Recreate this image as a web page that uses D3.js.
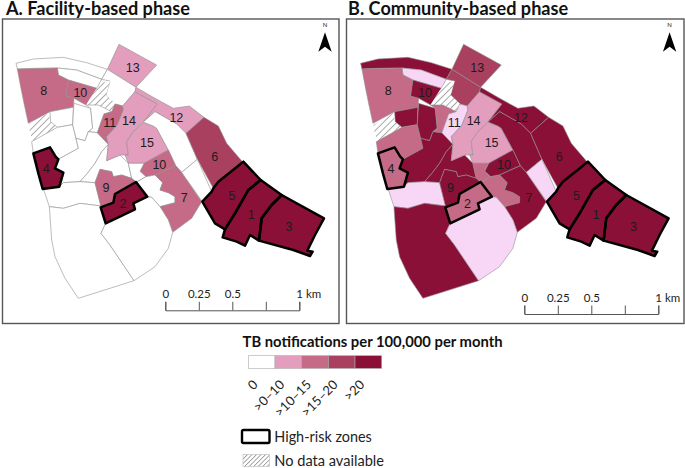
<!DOCTYPE html>
<html>
<head>
<meta charset="utf-8">
<title>TB notifications</title>
<script src="https://cdnjs.cloudflare.com/ajax/libs/d3/7.8.5/d3.min.js"></script>
<style>
  body { margin: 0; background: #fff; }
  text { font-family: Lato, sans-serif; fill: #222; }
  .zone-label { font-family: "Liberation Sans", sans-serif; font-size: 12.5px; text-anchor: middle; fill: #1c1c1c; }
</style>
</head>
<body>
<script>
// choropleth classes, 5 is the pale tint only used on the community map
const classLabels = ['0', '>0–10', '>10–15', '>15–20', '>20']
const classColors = ['#ffffff', '#e39dbd', '#c56a87', '#aa405f', '#8b1038', '#f8d6f6']

const panelTitles = ['A. Facility-based phase', 'B. Community-based phase']

// zones, high-risk ones come last so the black outline stays on top
const zoneNames = [
  'north-strip', 'north-pale', 'z13', 'below13', 'z8', 'z10a', 'hatchN', 'hatchW', 'westA', 'westB',
  'c1', 'c2', 'c3', 'c4', 'z11', 'z14', 'z15', 'z12', 'river', 'z6', 'z10b', 'west10b', 'bite7', 'z7',
  'east', 'band', 'southwest', 'south', 'z9', 'z4', 'z2', 'z5', 'z1', 'z3'
]
const facilityClass = [
  0, 0, 1, 0, 2, 2, 'nd', 'nd', 0, 0,
  0, 0, 0, 0, 2, 1, 1, 1, 0, 3, 2, 0, 0, 2,
  0, 0, 0, 0, 2, 4, 4, 4, 4, 4
]
const communityClass = [
  4, 5, 3, 3, 2, 4, 'nd', 'nd', 4, 2,
  4, 2, 4, 4, 5, 1, 1, 4, 4, 4, 4, 2, 2, 4,
  5, 5, 4, 5, 4, 2, 2, 4, 4, 4
]
const highRisk = ['z4', 'z2', 'z5', 'z1', 'z3']

// zone boundaries in map units
const zoneRings = {
  'north-strip': [[48, 190], [100, 177], [190, 172], [260, 188], [322, 208], [305, 238], [230, 210], [172, 204], [100, 205], [52, 207]],
  'north-pale': [[172, 204], [230, 210], [305, 238], [290, 265], [205, 240], [175, 225]],
  z13: [[357, 133], [470, 195], [408, 262], [322, 208]],
  below13: [[322, 208], [408, 262], [405, 275], [368, 318], [345, 312], [318, 285], [330, 243], [305, 238]],
  z8: [[52, 207], [172, 204], [175, 225], [205, 240], [198, 288], [222, 295], [220, 322], [150, 335], [85, 370], [72, 310], [62, 260]],
  z10a: [[205, 240], [290, 265], [258, 315], [222, 295], [198, 288]],
  hatchN: [[305, 248], [330, 243], [318, 285], [347, 312], [335, 335], [295, 315], [258, 315], [285, 272]],
  hatchW: [[87, 375], [145, 338], [152, 365], [172, 382], [100, 424], [90, 400]],
  westA: [[150, 335], [220, 322], [218, 374], [172, 382], [152, 365]],
  westB: [[95, 425], [172, 382], [218, 374], [228, 415], [235, 445], [175, 478], [167, 470], [150, 442], [100, 460]],
  c1: [[222, 310], [272, 325], [278, 385], [265, 395], [255, 422], [228, 415], [218, 374]],
  c2: [[272, 325], [258, 315], [295, 315], [335, 335], [312, 342], [292, 398], [265, 395], [278, 385]],
  c3: [[265, 395], [292, 398], [325, 433], [305, 455], [285, 490], [262, 520], [240, 545], [190, 548], [178, 560], [190, 518], [165, 505], [175, 478], [235, 445], [228, 415], [255, 422]],
  c4: [[325, 433], [320, 482], [360, 465], [385, 490], [395, 535], [365, 525], [340, 530], [335, 515], [300, 508], [285, 548], [240, 545], [262, 520], [285, 490], [305, 455]],
  z11: [[345, 312], [368, 318], [370, 330], [352, 375], [320, 410], [325, 433], [292, 398], [312, 342], [335, 335]],
  z14: [[405, 275], [472, 312], [430, 366], [400, 395], [380, 425], [385, 465], [360, 465], [320, 482], [325, 433], [320, 410], [352, 375], [370, 330], [368, 318]],
  z15: [[430, 368], [460, 378], [470, 385], [505, 450], [432, 490], [385, 490], [375, 465], [385, 465], [380, 425], [400, 395]],
  z12: [[408, 262], [465, 295], [520, 325], [568, 318], [612, 352], [558, 400], [530, 372], [465, 335], [430, 366], [472, 312], [405, 275]],
  river: [[430, 366], [465, 335], [530, 372], [558, 400], [592, 478], [545, 517], [527, 497], [505, 450], [470, 385], [460, 378]],
  z6: [[612, 352], [655, 378], [680, 430], [728, 486], [655, 545], [640, 565], [592, 478], [558, 400]],
  z10b: [[420, 514], [432, 490], [505, 450], [527, 497], [465, 525], [438, 530]],
  west10b: [[385, 490], [432, 490], [420, 514], [438, 530], [410, 546], [395, 535]],
  bite7: [[438, 530], [465, 525], [488, 548], [480, 570], [505, 578], [525, 590], [525, 608], [480, 620], [455, 592], [442, 590], [410, 546]],
  z7: [[465, 525], [527, 497], [545, 517], [605, 605], [575, 655], [518, 697], [505, 660], [480, 620], [525, 608], [525, 590], [505, 578], [480, 570], [488, 548]],
  east: [[545, 517], [592, 478], [635, 575], [607, 605]],
  band: [[130, 565], [178, 560], [190, 548], [240, 545], [285, 548], [303, 618], [240, 610], [190, 625], [148, 620]],
  southwest: [[148, 620], [190, 625], [240, 610], [303, 618], [317, 670], [303, 700], [330, 735], [402, 842], [235, 895], [195, 835], [165, 770], [155, 720]],
  south: [[303, 700], [317, 670], [405, 628], [400, 610], [442, 590], [455, 592], [480, 620], [505, 660], [518, 697], [505, 745], [465, 800], [402, 842], [330, 735]],
  z9: [[300, 508], [335, 515], [340, 530], [365, 525], [395, 535], [408, 546], [345, 582], [340, 608], [303, 620], [285, 548]],
  z4: [[100, 460], [150, 442], [167, 470], [175, 478], [165, 505], [190, 518], [178, 560], [128, 567], [115, 520]],
  z2: [[408, 546], [442, 590], [400, 610], [405, 628], [317, 670], [302, 622], [340, 608], [345, 582]],
  z5: [[730, 485], [782, 540], [745, 570], [705, 640], [675, 688], [645, 670], [607, 605], [635, 575], [640, 565], [655, 545]],
  z1: [[782, 540], [845, 585], [815, 615], [785, 655], [777, 722], [750, 705], [735, 737], [710, 725], [668, 712], [675, 688], [705, 640], [745, 570]],
  z3: [[845, 585], [972, 655], [945, 705], [922, 752], [938, 755], [930, 768], [880, 750], [777, 722], [785, 655], [815, 615]]
}

const labelTexts = ['13', '8', '10', '11', '14', '12', '15', '6', '10', '4', '9', '5', '7', '2', '1', '3']
const labelPoints = [
  [398, 201], [131, 270], [241, 277], [329, 366], [387, 360], [529, 351], [441, 428], [644, 470],
  [478, 492], [139, 505], [318, 562], [696, 585], [553, 593], [369, 609], [754, 643], [867, 679]
]
const northArrow = [[975, 97], [995, 155], [975, 140], [955, 155]]

const scaleTicks = [0, 0.25, 0.5, 0.75, 1]
const scaleTickLabels = ['0', '0.25', '0.5', '', '1 km']

const svg = d3.select('body').append('svg')
  .attr('width', 685)
  .attr('height', 468)

const defs = svg.append('defs')

function addHatch (id, size) {
  const p = defs.append('pattern')
    .attr('id', id)
    .attr('patternUnits', 'userSpaceOnUse')
    .attr('width', size)
    .attr('height', size)
    .attr('patternTransform', 'rotate(45)')
  p.append('rect').attr('width', size).attr('height', size).attr('fill', '#fff')
  p.append('line')
    .attr('x1', 0).attr('x2', 0).attr('y1', 0).attr('y2', size)
    .attr('stroke', '#555').attr('stroke-width', 1)
}
addHatch('hatch', 4.7)
addHatch('hatch-small', 3.2)

function drawPanel (offset, frameX, frameW, title, titleX, classes, barX, barY) {
  const x = d3.scaleLinear().domain([0, 1035]).range([offset, offset + 345])
  const y = d3.scaleLinear().domain([0, 1035]).range([0, 345])
  const line = d3.line().x((d) => x(d[0])).y((d) => y(d[1])).curve(d3.curveLinearClosed)
  const g = svg.append('g')

  g.append('text')
    .attr('x', titleX)
    .attr('y', 14.5)
    .attr('font-size', 18.1)
    .attr('font-weight', 700)
    .style('fill', '#111')
    .text(title)

  g.append('rect')
    .attr('x', frameX)
    .attr('y', 19)
    .attr('width', frameW)
    .attr('height', 304.5)
    .attr('fill', '#fff')
    .attr('stroke', '#555')
    .attr('stroke-width', 1.4)

  const zones = zoneNames.map((name, i) => ({ name, cls: classes[i] }))

  g.selectAll('path.zone')
    .data(zones)
    .join('path')
    .attr('class', 'zone')
    .attr('d', (d) => line(zoneRings[d.name]))
    .attr('fill', (d) => d.cls === 'nd' ? 'url(#hatch)' : classColors[d.cls])
    .attr('stroke', (d) => d.cls === 'nd' ? 'none' : '#909090')
    .attr('stroke-width', 0.6)
    .attr('stroke-linejoin', 'round')

  g.selectAll('path.risk')
    .data(highRisk)
    .join('path')
    .attr('class', 'risk')
    .attr('d', (d) => line(zoneRings[d]))
    .attr('fill', 'none')
    .attr('stroke', '#000')
    .attr('stroke-width', 2.5)
    .attr('stroke-linejoin', 'round')

  g.selectAll('text.zone-label')
    .data(labelTexts)
    .join('text')
    .attr('class', 'zone-label')
    .attr('x', (d, i) => x(labelPoints[i][0]))
    .attr('y', (d, i) => y(labelPoints[i][1]) + 4.5)
    .text((d) => d)

  // north arrow
  g.append('path').attr('d', line(northArrow)).attr('fill', '#000')
  g.append('text')
    .attr('x', x(975))
    .attr('y', y(81))
    .attr('text-anchor', 'middle')
    .attr('font-size', 6)
    .text('N')

  // scale bar
  const km = d3.scaleLinear().domain([0, 1]).range([barX, barX + 134])
  const axis = svg.append('g')
    .attr('transform', `translate(0,${barY})`)
    .call(d3.axisTop(km)
      .tickValues(scaleTicks)
      .tickSize(8.5)
      .tickPadding(4)
      .tickFormat((d, i) => scaleTickLabels[i]))
  axis.selectAll('path, line').attr('stroke', '#555').attr('stroke-width', 1)
  axis.selectAll('text')
    .attr('font-family', 'Lato, sans-serif')
    .attr('font-size', 11.5)
    .attr('dx', (d) => d === 1 ? 9 : 0)
    .style('fill', '#222')
}

drawPanel(0, 2.5, 336.5, panelTitles[0], 6, facilityClass, 165.3, 310.3)
drawPanel(344.6, 346.5, 337.5, panelTitles[1], 348, communityClass, 524.3, 314)

// legend
const legend = svg.append('g')
const band = d3.scaleBand().domain(classLabels).range([248.3, 381.7])

legend.append('text')
  .attr('x', 242.5)
  .attr('y', 346.5)
  .attr('font-size', 14.8)
  .attr('font-weight', 700)
  .style('fill', '#111')
  .text('TB notifications per 100,000 per month')

legend.selectAll('rect.swatch')
  .data(classLabels)
  .join('rect')
  .attr('class', 'swatch')
  .attr('x', (d) => band(d))
  .attr('y', 355.7)
  .attr('width', band.bandwidth())
  .attr('height', 12.7)
  .attr('fill', (d, i) => classColors[i])
  .attr('stroke', '#aaa')
  .attr('stroke-width', 0.6)

legend.selectAll('text.cat')
  .data(classLabels)
  .join('text')
  .attr('class', 'cat')
  .attr('transform', (d) => `translate(${band(d) + band.bandwidth() / 2 - 3},385.5) rotate(-45)`)
  .attr('text-anchor', 'end')
  .attr('font-size', 13)
  .text((d) => d)

legend.append('rect')
  .attr('x', 242)
  .attr('y', 430)
  .attr('width', 27.5)
  .attr('height', 13)
  .attr('rx', 1.5)
  .attr('fill', '#fff')
  .attr('stroke', '#000')
  .attr('stroke-width', 2.4)
legend.append('text')
  .attr('x', 274.3)
  .attr('y', 441.5)
  .attr('font-size', 14.4)
  .text('High-risk zones')

legend.append('rect')
  .attr('x', 243)
  .attr('y', 454.5)
  .attr('width', 26.5)
  .attr('height', 12)
  .attr('fill', 'url(#hatch-small)')
  .attr('stroke', '#bbb')
  .attr('stroke-width', 0.6)
legend.append('text')
  .attr('x', 274.3)
  .attr('y', 466)
  .attr('font-size', 14.6)
  .text('No data available')
</script>
</body>
</html>
